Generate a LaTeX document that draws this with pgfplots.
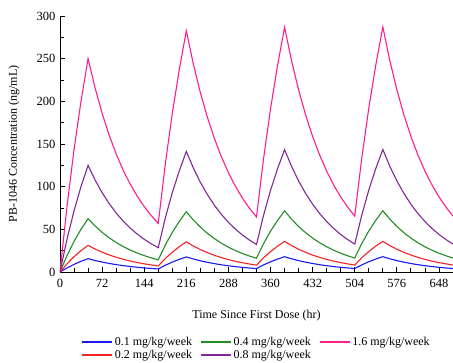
\documentclass[border=0pt]{standalone}
\usepackage{fontspec}
\setmainfont{Liberation Serif}
\usepackage{pgfplots}
\pgfplotsset{compat=1.18}
\usepackage{pgfplotstable}
\definecolor{cblue}{RGB}{25,25,245}
\definecolor{cred}{RGB}{245,35,35}
\definecolor{cgreen}{RGB}{35,140,35}
\definecolor{cpurple}{RGB}{130,40,150}
\definecolor{cpink}{RGB}{255,30,140}
\pgfplotstableread{
t c16 c08 c04 c02 c01
0 0 0 0 0 0
12 77.0 38.5 19.25 9.63 4.81
24 143.4 71.7 35.85 17.93 8.96
36 200.6 100.3 50.15 25.08 12.54
48 250.0 125.0 62.5 31.25 15.63
60 215.7 107.85 53.93 26.96 13.48
72 186.0 93.0 46.5 23.25 11.63
84 160.5 80.25 40.13 20.06 10.03
96 138.4 69.2 34.6 17.3 8.65
108 119.4 59.7 29.85 14.93 7.46
120 103.0 51.5 25.75 12.88 6.44
132 88.9 44.45 22.23 11.11 5.56
144 76.7 38.35 19.18 9.59 4.79
156 66.1 33.05 16.53 8.26 4.13
168 57.0 28.5 14.25 7.13 3.56
180 126.2 63.1 31.55 15.78 7.89
192 185.8 92.9 46.45 23.23 11.61
204 237.2 118.6 59.3 29.65 14.83
216 282.6 141.3 70.65 35.33 17.66
228 243.8 121.9 60.95 30.48 15.24
240 210.3 105.15 52.58 26.29 13.14
252 181.4 90.7 45.35 22.68 11.34
264 156.5 78.25 39.13 19.56 9.78
276 135.0 67.5 33.75 16.88 8.44
288 116.4 58.2 29.1 14.55 7.28
300 100.4 50.2 25.1 12.55 6.28
312 86.6 43.3 21.65 10.83 5.41
324 74.7 37.35 18.68 9.34 4.67
336 64.5 32.25 16.13 8.06 4.03
348 132.6 66.3 33.15 16.58 8.29
360 191.4 95.7 47.85 23.93 11.96
372 242.0 121.0 60.5 30.25 15.13
384 286.8 143.4 71.7 35.85 17.93
396 247.4 123.7 61.85 30.93 15.46
408 213.4 106.7 53.35 26.68 13.34
420 184.1 92.05 46.03 23.01 11.51
432 158.8 79.4 39.7 19.85 9.93
444 137.0 68.5 34.25 17.13 8.56
456 118.2 59.1 29.55 14.78 7.39
468 101.9 50.95 25.48 12.74 6.37
480 87.9 43.95 21.98 10.99 5.49
492 75.9 37.95 18.98 9.49 4.74
504 65.4 32.7 16.35 8.18 4.09
516 133.4 66.7 33.35 16.68 8.34
528 192.0 96.0 48.0 24.0 12.0
540 242.6 121.3 60.65 30.33 15.16
552 287.2 143.6 71.8 35.9 17.95
564 247.7 123.85 61.93 30.96 15.48
576 213.7 106.85 53.43 26.71 13.36
588 184.3 92.15 46.08 23.04 11.52
600 159.0 79.5 39.75 19.88 9.94
612 137.2 68.6 34.3 17.15 8.58
624 118.3 59.15 29.58 14.79 7.39
636 102.1 51.05 25.53 12.76 6.38
648 88.1 44.05 22.03 11.01 5.51
660 76.0 38.0 19.0 9.5 4.75
672 65.5 32.75 16.38 8.19 4.09
}\pk
\begin{document}
\begin{tikzpicture}
\begin{axis}[
  at={(0,0)}, anchor=south west,
  scale only axis, width=393pt, height=256pt,
  xmin=0, xmax=672, ymin=0, ymax=300,
  axis lines=left, axis line style={-, line width=0.8pt},
  xtick={0,72,...,648}, minor x tick num=2,
  ytick={0,50,...,300}, minor y tick num=1,
  tick style={black, line width=0.8pt},
  major tick length=5pt, minor tick length=4pt,
  tick align=inside,
  /pgf/number format/assume math mode=true,
  ticklabel style={font=\fontsize{12.5}{14}\selectfont},
  xticklabel style={yshift=-3.5pt},
  yticklabel style={xshift=-1pt},
  xlabel={Time Since First Dose (hr)},
  ylabel={PB-1046 Concentration (ng/mL)},
  label style={font=\fontsize{12}{14}\selectfont},
  xlabel style={at={(axis description cs:0.5,-0.172)}, anchor=center},
  ylabel style={at={(axis description cs:-0.117,0.5)}, anchor=center},
  legend columns=3,
  legend style={at={(0.5,-0.238)}, anchor=north, draw=none, fill=none,
    font=\fontsize{12}{14}\selectfont, row sep=-1pt,
    /tikz/every even column/.append style={column sep=6pt}},
  legend image code/.code={\draw[#1, line width=1.5pt] (0pt,0pt) -- (30pt,0pt);},
  every axis plot/.append style={line width=1.1pt},
]
\addplot[cblue] table[x=t, y=c01] {\pk};
\addlegendentry{0.1 mg/kg/week}
\addplot[cgreen] table[x=t, y=c04] {\pk};
\addlegendentry{0.4 mg/kg/week}
\addplot[cpink] table[x=t, y=c16] {\pk};
\addlegendentry{1.6 mg/kg/week}
\addplot[cred] table[x=t, y=c02] {\pk};
\addlegendentry{0.2 mg/kg/week}
\addplot[cpurple] table[x=t, y=c08] {\pk};
\addlegendentry{0.8 mg/kg/week}
\end{axis}
\pgfresetboundingbox
\path[use as bounding box] (-60pt,-90pt) rectangle (393pt,272pt);
\end{tikzpicture}
\end{document}
